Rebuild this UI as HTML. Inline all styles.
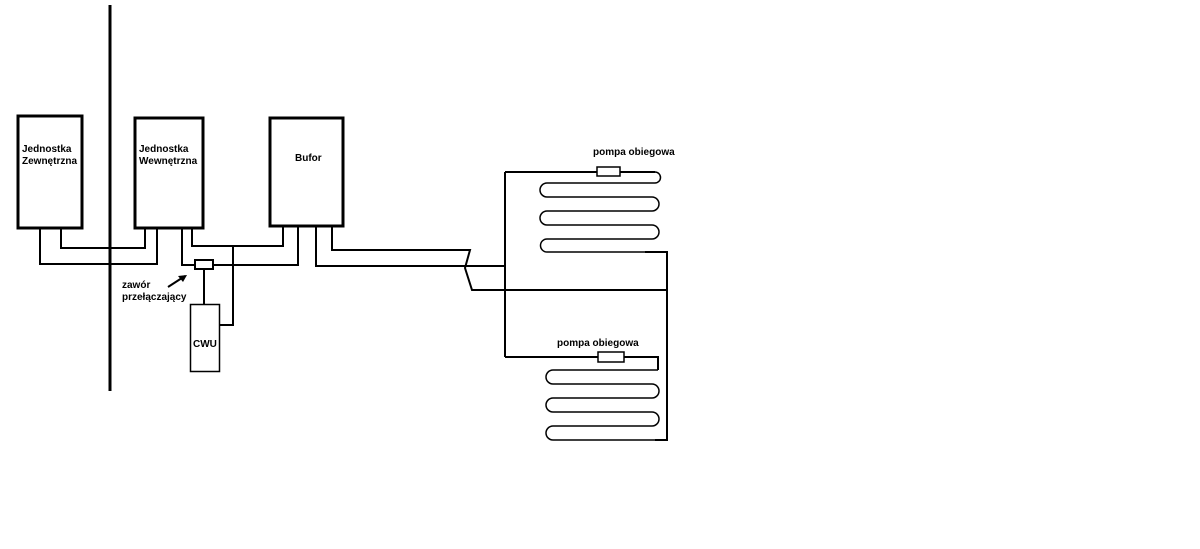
<!DOCTYPE html>
<html><head><meta charset="utf-8"><style>
html,body{margin:0;padding:0;background:#fff}
svg{display:block}
text{font-family:"Liberation Sans",Arial,sans-serif;font-weight:bold;font-size:10px;fill:#000}
</style></head><body>
<svg width="1200" height="549" viewBox="0 0 1200 549" xmlns="http://www.w3.org/2000/svg">
<g fill="none" stroke="#000">
<line x1="110" y1="5" x2="110" y2="391" stroke-width="3"/>
<rect x="18" y="116" width="64" height="112" stroke-width="3"/>
<rect x="135" y="118" width="68" height="110" stroke-width="3"/>
<rect x="270" y="118" width="73" height="108" stroke-width="3"/>
<rect x="190.5" y="304.5" width="29" height="67" stroke-width="1.5"/>
<g stroke-width="2">
<polyline points="40,228 40,264 157,264 157,228"/>
<polyline points="61,228 61,248 145,248 145,228"/>
<polyline points="182,228 182,265 195,265"/>
<polyline points="213,265 298,265 298,227"/>
<polyline points="192,228 192,246 283,246 283,226"/>
<polyline points="233,246 233,325 219,325"/>
<line x1="204" y1="269" x2="204" y2="304"/>
<polyline points="316,226 316,266 470,266"/>
<polyline points="332,226 332,250 470,250 465,268 472,290 667,290"/>
<polyline points="470,266 505,266"/>
<polyline points="505,172 505,357"/>
<polyline points="505,172 597,172"/>
<polyline points="620,172 655,172"/>
<polyline points="505,357 598,357"/>
<polyline points="624,357 658,357 658,370"/>
<polyline points="645,252 667,252 667,440 655,440"/>
</g>
<rect x="195" y="260" width="18" height="9" stroke-width="2" fill="#fff"/>
<rect x="597" y="167" width="23" height="9" stroke-width="1.5"/>
<rect x="598" y="352" width="26" height="10" stroke-width="1.5"/>
<path stroke-width="1.5" d="M655,172 A5.5,5.5 0 0 1 655,183 L547,183 A7,7 0 0 0 547,197 L652,197 A7,7 0 0 1 652,211 L547,211 A7,7 0 0 0 547,225 L652,225 A7,7 0 0 1 652,239 L547,239 A6.5,6.5 0 0 0 547,252 L645,252"/>
<path stroke-width="1.5" d="M658,370 L553,370 A7,7 0 0 0 553,384 L652,384 A7,7 0 0 1 652,398 L553,398 A7,7 0 0 0 553,412 L652,412 A7,7 0 0 1 652,426 L553,426 A7,7 0 0 0 553,440 L655,440"/>
<line x1="168" y1="287" x2="185" y2="276" stroke-width="2"/>
</g>
<polygon points="187,275 178,276 183,282" fill="#000"/>
<text x="22" y="152">Jednostka</text>
<text x="22" y="164">Zewnętrzna</text>
<text x="139" y="152">Jednostka</text>
<text x="139" y="164">Wewnętrzna</text>
<text x="295" y="161">Bufor</text>
<text x="193" y="347">CWU</text>
<text x="122" y="288">zawór</text>
<text x="122" y="300">przełączający</text>
<text x="593" y="155">pompa obiegowa</text>
<text x="557" y="346">pompa obiegowa</text>
</svg>
</body></html>
